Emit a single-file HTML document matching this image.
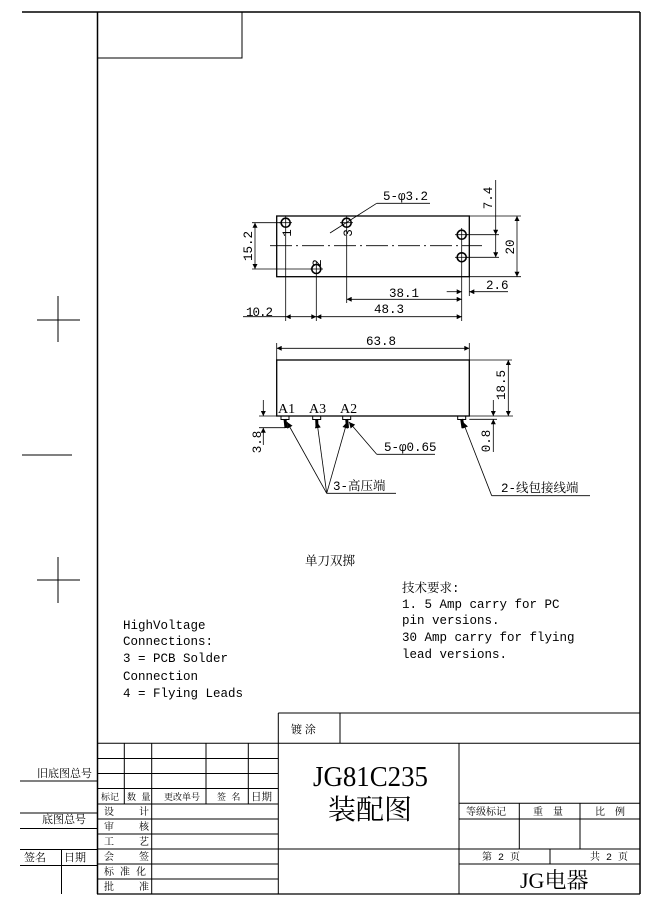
<!DOCTYPE html>
<html><head><meta charset="utf-8"><style>
html,body{margin:0;padding:0;background:#fff;}
svg{display:block;}
text{font-family:"Liberation Mono","Noto Serif CJK SC","Noto Sans CJK SC",monospace;fill:#000;}
.cj{font-family:"Noto Serif CJK SC","Noto Sans CJK SC",serif;}
.sf{font-family:"Liberation Serif","Noto Serif CJK SC",serif;}
</style></head><body>
<svg width="656" height="909" viewBox="0 0 656 909" xmlns="http://www.w3.org/2000/svg">
<defs>
<marker id="a" viewBox="0 0 10 10" refX="10" refY="5" markerWidth="7" markerHeight="5" orient="auto-start-reverse" markerUnits="userSpaceOnUse"><path d="M0,0L10,5L0,10z" fill="#000"/></marker>
<marker id="b" viewBox="0 0 10 10" refX="10" refY="5" markerWidth="12" markerHeight="6" orient="auto" markerUnits="userSpaceOnUse"><path d="M0,0L10,5L0,10z" fill="#000"/></marker>
</defs>
<g stroke="#000" fill="none">
<line x1="22" y1="12" x2="640" y2="12" stroke-width="1.5"/>
<line x1="97.5" y1="12" x2="97.5" y2="894" stroke-width="1.5"/>
<line x1="640" y1="12" x2="640" y2="894" stroke-width="1.5"/>
<line x1="97" y1="894" x2="640" y2="894" stroke-width="1.2"/>
<rect x="97.5" y="12" width="144.5" height="46" stroke-width="1"/>
<line x1="37" y1="320" x2="80" y2="320"/><line x1="58" y1="296" x2="58" y2="342"/>
<line x1="22" y1="455" x2="72" y2="455"/>
<line x1="37" y1="580" x2="80" y2="580"/><line x1="58" y1="557" x2="58" y2="603"/>

<rect x="276.7" y="216" width="192.6" height="60.7" stroke-width="1.3"/>
<line x1="270" y1="245.7" x2="482" y2="245.7" stroke-dasharray="22,4,2,4" stroke-width="0.8"/>
<g stroke-width="1.6">
<circle cx="285.7" cy="222.7" r="4.5"/><circle cx="346.7" cy="222.7" r="4.5"/>
<circle cx="461.7" cy="234.7" r="4.5"/><circle cx="461.7" cy="257.3" r="4.5"/>
<circle cx="316.3" cy="269" r="4.5"/>
</g>
<g stroke-width="0.8">
<line x1="279" y1="222.7" x2="292" y2="222.7"/><line x1="340" y1="222.7" x2="353" y2="222.7"/>
<line x1="455" y1="234.7" x2="468" y2="234.7"/><line x1="455" y1="257.3" x2="468" y2="257.3"/>
<line x1="310" y1="269" x2="323" y2="269"/>
<line x1="285.7" y1="216" x2="285.7" y2="321"/>
<line x1="316.3" y1="262" x2="316.3" y2="321"/>
<line x1="346.7" y1="216" x2="346.7" y2="303"/>
<line x1="461.7" y1="228" x2="461.7" y2="321"/>
<line x1="469.3" y1="276.7" x2="469.3" y2="296"/>
<line x1="252" y1="222.7" x2="282" y2="222.7"/>
<line x1="252" y1="269" x2="312" y2="269"/>
<line x1="466" y1="234.7" x2="499" y2="234.7"/>
<line x1="466" y1="257.3" x2="499" y2="257.3"/>
<line x1="469.3" y1="216" x2="521" y2="216"/>
<line x1="469.3" y1="276.7" x2="521" y2="276.7"/>
<line x1="255" y1="222.7" x2="255" y2="269" marker-start="url(#a)" marker-end="url(#a)"/>
<line x1="517" y1="216" x2="517" y2="276.7" marker-start="url(#a)" marker-end="url(#a)"/>
<line x1="495.7" y1="180" x2="495.7" y2="234.7" marker-end="url(#a)"/>
<line x1="495.7" y1="234.7" x2="495.7" y2="257.3" marker-end="url(#a)"/>
<line x1="446.7" y1="291.7" x2="461.7" y2="291.7" marker-end="url(#a)"/>
<line x1="508" y1="291.7" x2="469.3" y2="291.7" marker-end="url(#a)"/>
<line x1="346.7" y1="299.3" x2="461.7" y2="299.3" marker-start="url(#a)" marker-end="url(#a)"/>
<line x1="285.7" y1="316.7" x2="316.3" y2="316.7" marker-start="url(#a)" marker-end="url(#a)"/>
<line x1="316.3" y1="316.7" x2="461.7" y2="316.7" marker-start="url(#a)" marker-end="url(#a)"/>
<line x1="243" y1="316.7" x2="285.7" y2="316.7"/>
<line x1="430" y1="203.3" x2="376.7" y2="203.3"/>
<line x1="376.7" y1="203.3" x2="330" y2="233"/>
</g>

<rect x="276.7" y="360" width="192.6" height="56" stroke-width="1.3"/>
<g stroke-width="0.8">
<line x1="276.7" y1="343" x2="276.7" y2="360"/><line x1="469.3" y1="343" x2="469.3" y2="360"/>
<line x1="276.7" y1="348.3" x2="469.3" y2="348.3" marker-start="url(#a)" marker-end="url(#a)"/>
<line x1="469.3" y1="360" x2="512" y2="360"/>
<line x1="259" y1="416" x2="513" y2="416"/>
<line x1="508.3" y1="360" x2="508.3" y2="416" marker-start="url(#a)" marker-end="url(#a)"/>
<line x1="469.3" y1="419.3" x2="497" y2="419.3"/>
<line x1="493.3" y1="400" x2="493.3" y2="416" marker-end="url(#a)"/>
<line x1="493.3" y1="452" x2="493.3" y2="419.3" marker-end="url(#a)"/>
<line x1="259" y1="427.7" x2="285" y2="427.7"/>
<line x1="263.3" y1="400" x2="263.3" y2="416" marker-end="url(#a)"/>
<line x1="263.3" y1="445" x2="263.3" y2="427.7" marker-end="url(#a)"/>
</g>
<g stroke-width="1">
<rect x="281" y="416" width="8" height="3.5"/><rect x="312.7" y="416" width="8" height="3.5"/>
<rect x="342.7" y="416" width="8" height="3.5"/><rect x="457.7" y="416" width="8" height="3.5"/>
</g>
<g stroke-width="3">
<line x1="285" y1="419" x2="286" y2="428"/><line x1="316.7" y1="419" x2="317" y2="428"/>
<line x1="346.7" y1="419" x2="347.5" y2="428"/><line x1="461.7" y1="419" x2="463" y2="428"/>
</g>
<g stroke-width="0.8">
<line x1="326.7" y1="493.3" x2="287" y2="422" marker-end="url(#b)"/>
<line x1="326.7" y1="493.3" x2="317" y2="422" marker-end="url(#b)"/>
<line x1="326.7" y1="493.3" x2="347" y2="422" marker-end="url(#b)"/>
<line x1="326.7" y1="493.3" x2="396" y2="493.3"/>
<line x1="376.7" y1="454.3" x2="349" y2="422" marker-end="url(#b)"/>
<line x1="376.7" y1="454.3" x2="435" y2="454.3"/>
<line x1="491.7" y1="495.7" x2="463" y2="422" marker-end="url(#b)"/>
<line x1="491.7" y1="495.7" x2="590" y2="495.7"/>
</g>

<g stroke-width="1">
<line x1="278.3" y1="713" x2="640" y2="713"/>
<line x1="278.3" y1="713" x2="278.3" y2="894"/>
<line x1="340" y1="713" x2="340" y2="743.3"/>
<line x1="97" y1="743.3" x2="640" y2="743.3"/>
<line x1="97" y1="758.5" x2="278.3" y2="758.5"/>
<line x1="97" y1="773.5" x2="278.3" y2="773.5"/>
<line x1="97" y1="788.5" x2="278.3" y2="788.5"/>
<line x1="97" y1="804" x2="278.3" y2="804"/>
<line x1="97" y1="819" x2="278.3" y2="819"/>
<line x1="97" y1="834" x2="278.3" y2="834"/>
<line x1="97" y1="849" x2="640" y2="849"/>
<line x1="97" y1="864" x2="278.3" y2="864"/>
<line x1="97" y1="879" x2="278.3" y2="879"/>
<line x1="124.3" y1="743.3" x2="124.3" y2="804"/>
<line x1="151.7" y1="743.3" x2="151.7" y2="894"/>
<line x1="206" y1="743.3" x2="206" y2="804"/>
<line x1="248.3" y1="743.3" x2="248.3" y2="804"/>
<line x1="459" y1="743.3" x2="459" y2="894"/>
<line x1="459" y1="803.3" x2="640" y2="803.3"/>
<line x1="459" y1="819" x2="640" y2="819"/>
<line x1="459" y1="864" x2="640" y2="864"/>
<line x1="519.3" y1="803.3" x2="519.3" y2="849"/>
<line x1="580" y1="803.3" x2="580" y2="849"/>
<line x1="550" y1="849" x2="550" y2="864"/>
<line x1="20" y1="781" x2="97" y2="781"/>
<line x1="20" y1="813" x2="97" y2="813"/>
<line x1="20" y1="828.5" x2="97" y2="828.5"/>
<line x1="20" y1="849.5" x2="97" y2="849.5"/>
<line x1="20" y1="865.5" x2="97" y2="865.5"/>
<line x1="61.5" y1="849.5" x2="61.5" y2="894"/>
</g>
</g>

<g font-size="12.5">
<text x="383" y="200">5-φ3.2</text>
<text x="246" y="316" textLength="27">10.2</text>
<text x="374" y="313">48.3</text>
<text x="389" y="297">38.1</text>
<text x="486" y="289">2.6</text>
<text x="366" y="345">63.8</text>
<text x="384" y="451">5-φ0.65</text>
<text x="278" y="413" class="sf" font-size="14">A1</text>
<text x="309" y="413" class="sf" font-size="14">A3</text>
<text x="340" y="413" class="sf" font-size="14">A2</text>
<text x="333" y="490">3-高压端</text>
<text x="501" y="492">2-线包接线端</text>
<text transform="translate(252,246) rotate(-90)" text-anchor="middle">15.2</text>
<text transform="translate(514,247) rotate(-90)" text-anchor="middle">20</text>
<text transform="translate(492,198) rotate(-90)" text-anchor="middle">7.4</text>
<text transform="translate(505,385) rotate(-90)" text-anchor="middle">18.5</text>
<text transform="translate(490,441) rotate(-90)" text-anchor="middle">0.8</text>
<text transform="translate(261,442) rotate(-90)" text-anchor="middle">3.8</text>
<text transform="translate(291,233) rotate(-90)" text-anchor="middle">1</text>
<text transform="translate(352,233) rotate(-90)" text-anchor="middle">3</text>
<text transform="translate(321,263) rotate(-90)" text-anchor="middle">2</text>
<text x="330" y="565" text-anchor="middle">单刀双掷</text>
<text x="402" y="592">技术要求:</text>
<text x="402" y="608">1. 5 Amp carry for PC</text>
<text x="402" y="624">pin versions.</text>
<text x="402" y="641">30 Amp carry for flying</text>
<text x="402" y="658">lead versions.</text>
<text x="123" y="629">HighVoltage</text>
<text x="123" y="645">Connections:</text>
<text x="123" y="662">3 = PCB Solder</text>
<text x="123" y="680">Connection</text>
<text x="123" y="697">4 = Flying Leads</text>
</g>
<g font-size="11" class="cj">
<text x="291" y="733" class="cj">镀 涂</text>
<text x="37" y="777" class="cj">旧底图总号</text>
<text x="42" y="823" class="cj">底图总号</text>
<text x="24" y="861" class="cj">签名</text>
<text x="64" y="861" class="cj">日期</text>
</g>
<g font-size="9" class="cj">
<text x="101" y="800">标记</text><text x="127" y="800">数 量</text><text x="164" y="800">更改单号</text><text x="217" y="800">签 名</text><text x="251" y="800" font-size="10.5">日期</text>
<text x="104" y="815" font-size="10">设</text><text x="139" y="815" font-size="10">计</text>
<text x="104" y="830" font-size="10">审</text><text x="139" y="830" font-size="10">核</text>
<text x="104" y="845" font-size="10">工</text><text x="139" y="845" font-size="10">艺</text>
<text x="104" y="860" font-size="10">会</text><text x="139" y="860" font-size="10">签</text>
<text x="104" y="875" font-size="10">标 准 化</text>
<text x="104" y="890" font-size="10">批</text><text x="139" y="890" font-size="10">准</text>
<text x="466" y="815" font-size="10">等级标记</text>
<text x="533" y="815" font-size="10">重　量</text>
<text x="595" y="815" font-size="10">比　例</text>
<text x="482" y="860" font-size="10">第 2 页</text>
<text x="590" y="860" font-size="10">共 2 页</text>
</g>
<text x="313" y="786" font-size="28" class="sf" textLength="115" lengthAdjust="spacingAndGlyphs">JG81C235</text>
<text x="370" y="819" font-size="28" text-anchor="middle" class="cj">装配图</text>
<text x="520" y="888" font-size="22" class="sf">JG电器</text>
</svg>
</body></html>
